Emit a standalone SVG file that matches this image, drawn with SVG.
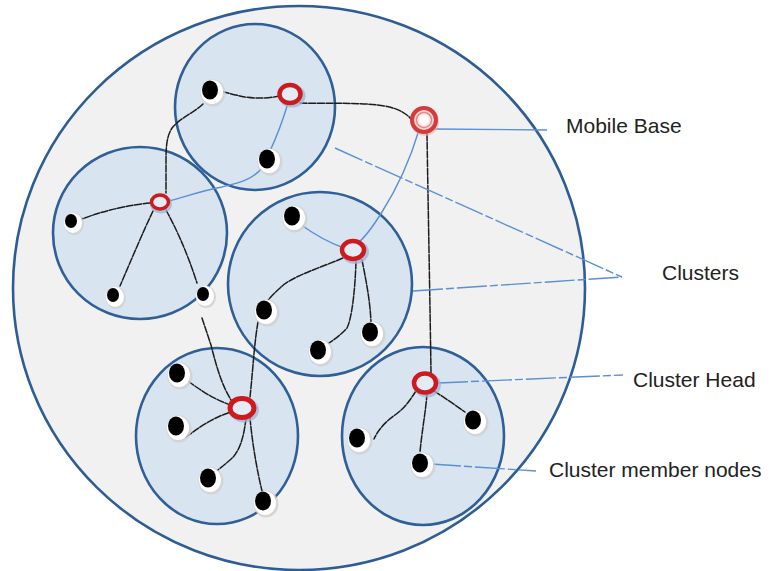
<svg xmlns="http://www.w3.org/2000/svg" width="772" height="571" viewBox="0 0 772 571">
<defs>
<style>
.field{fill:#f1f1f1;stroke:#2d5d94;stroke-width:2.6}
.cl{fill:#d9e4f1;stroke:none}
.rim{fill:none;stroke:#2f5f96;stroke-width:2.6}
.blk{fill:none;stroke:#1c1c1c;stroke-width:1.5;stroke-dasharray:7 1.6;stroke-linecap:round}
.blu{fill:none;stroke:#5a8fd2;stroke-width:1.4}
.lead{fill:none;stroke:#5a8fd2;stroke-width:1.4;stroke-dasharray:30 3 8 3}
.sh{fill:#cfcfcf;opacity:0.8}
.halo{fill:#ffffff}
.dot{fill:#000000}
.hsh{fill:#9db4d2;opacity:0.75}
.ring{fill:#e3ebf5;stroke:#cc1a1f;stroke-width:4.5}
.lbl{font-family:"Liberation Sans",Arial,sans-serif;font-size:21px;fill:#222222}
</style>
</defs>
<rect width="772" height="571" fill="#ffffff"/>
<g id="field"><ellipse class="field" cx="299" cy="288" rx="286" ry="282"/></g>
<g id="clusters">
<g id="cluster-top"><ellipse class="cl" cx="255" cy="107" rx="80" ry="83"/></g>
<g id="cluster-left"><ellipse class="cl" cx="140" cy="233" rx="87" ry="86"/></g>
<g id="cluster-center"><ellipse class="cl" cx="320" cy="284" rx="92" ry="92"/></g>
<g id="cluster-bottom-left"><ellipse class="cl" cx="217" cy="436" rx="81" ry="88"/></g>
<g id="cluster-bottom-right"><ellipse class="cl" cx="423" cy="436" rx="81" ry="89"/></g>
<g id="cluster-rims">
<ellipse class="rim" cx="255" cy="107" rx="80" ry="83"/>
<ellipse class="rim" cx="140" cy="233" rx="87" ry="86"/>
<ellipse class="rim" cx="320" cy="284" rx="92" ry="92"/>
<ellipse class="rim" cx="217" cy="436" rx="81" ry="88"/>
<ellipse class="rim" cx="423" cy="436" rx="81" ry="89"/>
</g>
</g>
<g id="connectors">
<g id="links-black">
<path class="blk" d="M280,96 C270,98 258,99 245,97 C235,95 228,93 220,91"/>
<path class="blk" d="M300,103 C330,104 360,102 385,106 C400,109 407,114 412,120"/>
<path class="blk" d="M427,134 C428,200 430,300 431,373"/>
<path class="blk" d="M203,104 C195,112 180,118 172,128 C167,136 166,145 166,160 L166,193"/>
<path class="blk" d="M150,203 C130,205 105,210 82,219"/>
<path class="blk" d="M153,211 C143,232 132,258 120,286"/>
<path class="blk" d="M166,210 C178,232 188,255 197,283"/>
<path class="blk" d="M202,318 L211,345 C216,365 222,387 233,403"/>
<path class="blk" d="M343,258 C320,268 292,276 280,288 C272,295 268,300 267,302"/>
<path class="blk" d="M356,262 C355,290 352,318 347,328 C338,338 328,344 321,347"/>
<path class="blk" d="M362,260 C366,280 370,300 371,322"/>
<path class="blk" d="M258,322 C254,345 253,370 250,397"/>
<path class="blk" d="M188,381 C200,390 215,400 231,405"/>
<path class="blk" d="M186,437 C196,430 211,418 231,412"/>
<path class="blk" d="M246,418 C244,436 240,452 230,460 C222,467 218,470 215,472"/>
<path class="blk" d="M250,418 C252,440 256,466 262,491"/>
<path class="blk" d="M416,391 C410,400 405,408 395,415 C385,422 378,430 374,439"/>
<path class="blk" d="M434,391 C445,398 455,405 465,412"/>
<path class="blk" d="M427,393 C426,410 422,430 420,452"/>
</g>
<g id="links-blue">
<path class="blu" d="M288,103 C283,120 276,138 270,151"/>
<path class="blu" d="M262,168 C252,180 238,183 222,187 C200,191 185,197 169,201"/>
<path class="blu" d="M419,130 C410,160 396,190 382,212 C372,228 364,238 358,243"/>
<path class="blu" d="M300,224 C315,235 330,243 344,248"/>
</g>
<g id="leaders">
<path class="blu" d="M434,129 L547,130"/>
<path class="lead" d="M335,148 L622,277"/>
<path class="lead" d="M413,291 L622,277"/>
<path class="lead" d="M438,383 L623,375"/>
<path class="lead" d="M431,464 L536,471"/>
</g>
</g>
<g id="mobile-base">
<circle cx="425" cy="122" r="14" fill="#e8b7b7" opacity="0.6"/>
<circle cx="424" cy="120" r="12" fill="#f6d2d2" stroke="#d23c3c" stroke-width="4"/>
<circle cx="424" cy="120" r="7.5" fill="#fbeaea" stroke="#e58a8a" stroke-width="1.5"/>
<circle cx="424" cy="120" r="4.5" fill="#ffffff"/>
</g>
<g id="head-top"><ellipse class="hsh" cx="292" cy="96" rx="13.5" ry="11.5"/><ellipse class="ring" cx="290" cy="94" rx="10.5" ry="9"/></g>
<g id="head-left"><ellipse class="hsh" cx="161" cy="204" rx="11" ry="9.5"/><ellipse class="ring" style="stroke-width:3.5" cx="160" cy="202" rx="8.5" ry="7"/></g>
<g id="head-center"><ellipse class="hsh" cx="355" cy="252" rx="14" ry="12"/><ellipse class="ring" cx="353" cy="250" rx="11" ry="9"/></g>
<g id="head-bottom-left"><ellipse class="hsh" cx="244" cy="410" rx="15" ry="12.5"/><ellipse class="ring" style="stroke-width:5" cx="242" cy="408" rx="12" ry="9.5"/></g>
<g id="head-bottom-right"><ellipse class="hsh" cx="427" cy="385" rx="14" ry="12.5"/><ellipse class="ring" cx="425" cy="383" rx="11" ry="9.5"/></g>
<g id="member-t1"><ellipse class="sh" cx="213" cy="93" rx="12.5" ry="13.5"/><ellipse class="halo" cx="212" cy="92" rx="11" ry="12"/><ellipse class="dot" cx="210" cy="90" rx="8" ry="9.5"/></g>
<g id="member-t2"><ellipse class="sh" cx="270" cy="162" rx="12.5" ry="13.5"/><ellipse class="halo" cx="269" cy="161" rx="11" ry="12"/><ellipse class="dot" cx="267" cy="159" rx="8" ry="9.5"/></g>
<g id="member-l1"><ellipse class="sh" cx="74" cy="224" rx="10" ry="11"/><ellipse class="halo" cx="73" cy="223" rx="9" ry="10"/><ellipse class="dot" cx="71" cy="221" rx="6" ry="7"/></g>
<g id="member-l2"><ellipse class="sh" cx="116" cy="298" rx="10" ry="11"/><ellipse class="halo" cx="115" cy="297" rx="9" ry="10"/><ellipse class="dot" cx="113" cy="295" rx="6" ry="7"/></g>
<g id="member-l3"><ellipse class="sh" cx="206" cy="297" rx="10" ry="11"/><ellipse class="halo" cx="205" cy="296" rx="9" ry="10"/><ellipse class="dot" cx="203" cy="294" rx="6" ry="7"/></g>
<g id="member-c1"><ellipse class="sh" cx="295" cy="219" rx="12.5" ry="13.5"/><ellipse class="halo" cx="294" cy="218" rx="11" ry="12"/><ellipse class="dot" cx="292" cy="216" rx="8" ry="9.5"/></g>
<g id="member-c2"><ellipse class="sh" cx="267" cy="313" rx="12.5" ry="13.5"/><ellipse class="halo" cx="266" cy="312" rx="11" ry="12"/><ellipse class="dot" cx="264" cy="310" rx="8" ry="9.5"/></g>
<g id="member-c3"><ellipse class="sh" cx="321" cy="353" rx="12.5" ry="13.5"/><ellipse class="halo" cx="320" cy="352" rx="11" ry="12"/><ellipse class="dot" cx="318" cy="350" rx="8" ry="9.5"/></g>
<g id="member-c4"><ellipse class="sh" cx="373" cy="335" rx="12.5" ry="13.5"/><ellipse class="halo" cx="372" cy="334" rx="11" ry="12"/><ellipse class="dot" cx="370" cy="332" rx="8" ry="9.5"/></g>
<g id="member-bl1"><ellipse class="sh" cx="180" cy="376" rx="12.5" ry="13.5"/><ellipse class="halo" cx="179" cy="375" rx="11" ry="12"/><ellipse class="dot" cx="177" cy="373" rx="8" ry="9.5"/></g>
<g id="member-bl2"><ellipse class="sh" cx="179" cy="429" rx="12.5" ry="13.5"/><ellipse class="halo" cx="178" cy="428" rx="11" ry="12"/><ellipse class="dot" cx="176" cy="426" rx="8" ry="9.5"/></g>
<g id="member-bl3"><ellipse class="sh" cx="211" cy="481" rx="12.5" ry="13.5"/><ellipse class="halo" cx="210" cy="480" rx="11" ry="12"/><ellipse class="dot" cx="208" cy="478" rx="8" ry="9.5"/></g>
<g id="member-bl4"><ellipse class="sh" cx="266" cy="504" rx="12.5" ry="13.5"/><ellipse class="halo" cx="265" cy="503" rx="11" ry="12"/><ellipse class="dot" cx="263" cy="501" rx="8" ry="9.5"/></g>
<g id="member-br1"><ellipse class="sh" cx="360" cy="441" rx="12.5" ry="13.5"/><ellipse class="halo" cx="359" cy="440" rx="11" ry="12"/><ellipse class="dot" cx="357" cy="438" rx="8" ry="9.5"/></g>
<g id="member-br2"><ellipse class="sh" cx="476" cy="423" rx="12.5" ry="13.5"/><ellipse class="halo" cx="475" cy="422" rx="11" ry="12"/><ellipse class="dot" cx="473" cy="420" rx="8" ry="9.5"/></g>
<g id="member-br3"><ellipse class="sh" cx="423" cy="466" rx="12.5" ry="13.5"/><ellipse class="halo" cx="422" cy="465" rx="11" ry="12"/><ellipse class="dot" cx="420" cy="463" rx="8" ry="9.5"/></g>
<g id="labels">
<text class="lbl" x="566" y="133">Mobile Base</text>
<text class="lbl" x="662" y="280">Clusters</text>
<text class="lbl" x="633" y="387">Cluster Head</text>
<text class="lbl" x="549" y="477">Cluster member nodes</text>
</g>
</svg>
